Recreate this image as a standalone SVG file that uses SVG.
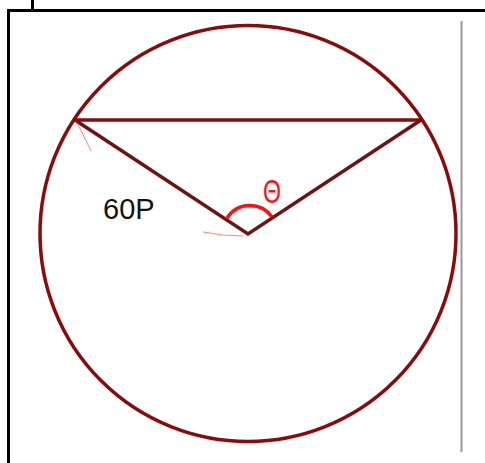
<svg xmlns="http://www.w3.org/2000/svg" width="485" height="463" viewBox="0 0 485 463">
<style>
.frame{stroke:#000;stroke-width:3;fill:none}
.dr{stroke:#8b0a0a;stroke-width:3.5;fill:none;stroke-linecap:round}
.v{stroke:#6e1212;stroke-width:3.5;fill:none;stroke-linecap:round}
.thin{stroke:#ff3030;stroke-width:1;fill:none;opacity:0.6}
</style>
<rect width="485" height="463" fill="#fff"/>
<g id="frame">
<line class="frame" x1="7" y1="10.5" x2="485" y2="10.5"/>
<line class="frame" x1="8.5" y1="9" x2="8.5" y2="463"/>
<line class="frame" x1="32.5" y1="0" x2="32.5" y2="10"/>
<line x1="461.5" y1="21" x2="461.5" y2="452" stroke="#999" stroke-width="2"/>
</g>
<g id="circle">
<circle class="dr" cx="248" cy="233.5" r="208"/>
</g>
<g id="connectors">
<line class="dr" x1="75" y1="120" x2="421" y2="120"/>
<polyline class="v" points="75,120 248,234 421,120"/>
<path class="thin" d="M76,121 Q84,136 91,151"/>
<path class="thin" d="M203,232 Q222,236 243,236"/>
</g>
<g id="angle">
<path d="M227,218 A27,27 0 0 1 272,217" stroke="#ff1010" stroke-width="3.5" fill="none"/>
<text x="263" y="203" font-family="Liberation Sans, Arial, sans-serif" font-size="34" fill="#ff1010" textLength="18" lengthAdjust="spacingAndGlyphs">Θ</text>
</g>
<g id="label">
<text x="103" y="219" font-family="Liberation Sans, Arial, sans-serif" font-size="29" fill="#111">60P</text>
</g>
</svg>
